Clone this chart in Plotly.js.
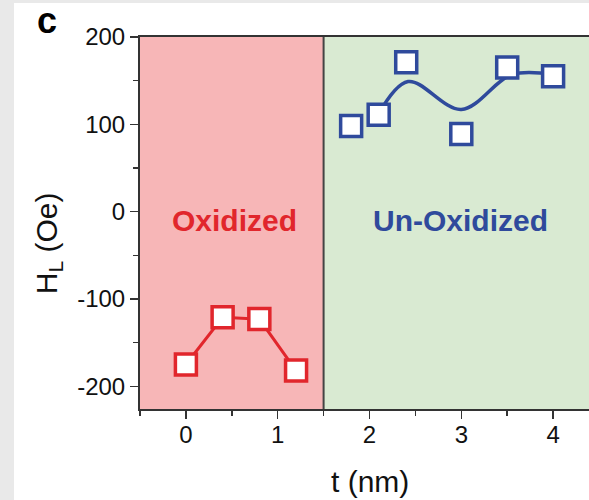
<!DOCTYPE html>
<html>
<head>
<meta charset="utf-8">
<script src="https://cdn.plot.ly/plotly-3.0.1.min.js"></script>
<style>
  html, body { margin: 0; padding: 0; background: #e9e9e9; overflow: hidden; width: 589px; height: 500px; }
  #chart { position: absolute; left: 14px; top: 3px; width: 585px; height: 497px; background: #ffffff; }
</style>
</head>
<body>
<div id="chart"></div>
<script>
// Oxidized films: thickness t (nm) vs H_L (Oe)
const oxT = [0, 0.4, 0.8, 1.2];
const oxH = [-175, -121, -123, -182];

// Un-oxidized films
const unT = [1.8, 2.1, 2.4, 3.0, 3.5, 4.0];
const unH = [98, 111, 171, 89, 165, 155];

// Smoothed guide line through the un-oxidized series
const guideT = [2.1, 2.42, 3.0, 3.55, 4.0];
const guideH = [112, 149, 117, 157, 157];

// Axis ticks
const xTicks = [0, 1, 2, 3, 4];
const xTickText = ['0', '1', '2', '3', '4'];
const yTicks = [-200, -100, 0, 100, 200];
const yTickText = ['-200', '-100', '0', '100', '200'];

// Region boundaries and labels
const regionEdges = [-0.5, 1.5, 4.5];
const regionNames = ['Oxidized', 'Un-Oxidized'];
const regionLabelT = [0.53, 2.99];
const regionLabelH = [-10, -10];

const FONT = "Arial, 'Liberation Sans', Helvetica, sans-serif";
const RED = '#e1262c';
const BLUE = '#2f4a9c';
const AXIS = '#333333';

const traces = [
  {
    x: oxT, y: oxH, type: 'scatter', mode: 'lines+markers',
    line: { color: RED, width: 3 },
    marker: { symbol: 'square', size: 21, color: '#ffffff', line: { color: RED, width: 3.5 } },
    cliponaxis: false, hoverinfo: 'skip'
  },
  {
    x: guideT, y: guideH, type: 'scatter', mode: 'lines',
    line: { color: BLUE, width: 3.5, shape: 'spline', smoothing: 1 },
    hoverinfo: 'skip'
  },
  {
    x: unT, y: unH, type: 'scatter', mode: 'markers',
    marker: { symbol: 'square', size: 21, color: '#ffffff', line: { color: BLUE, width: 3.5 } },
    cliponaxis: false, hoverinfo: 'skip'
  }
];

const layout = {
  width: 585, height: 497,
  margin: { l: 126, r: 0, t: 34, b: 91 },
  paper_bgcolor: '#ffffff',
  plot_bgcolor: '#ffffff',
  showlegend: false,
  font: { family: FONT, color: '#1a1a1a' },
  xaxis: {
    range: [regionEdges[0], regionEdges[2]],
    tickvals: xTicks, ticktext: xTickText,
    ticks: 'outside', ticklen: 8, tickwidth: 1.5, tickcolor: AXIS,
    ticklabelstandoff: -5,
    minor: { dtick: 0.5, tick0: 0, ticks: 'outside', ticklen: 5, tickwidth: 1.5, tickcolor: AXIS, showgrid: false },
    showline: true, linecolor: AXIS, linewidth: 2, mirror: true,
    showgrid: false, zeroline: false,
    tickfont: { family: FONT, size: 24, color: '#111111' }
  },
  yaxis: {
    range: [-226, 200],
    tickvals: yTicks, ticktext: yTickText,
    ticks: 'outside', ticklen: 8, tickwidth: 1.5, tickcolor: AXIS,
    minor: { dtick: 50, tick0: 0, ticks: 'outside', ticklen: 5, tickwidth: 1.5, tickcolor: AXIS, showgrid: false },
    showline: true, linecolor: AXIS, linewidth: 2,
    showgrid: false, zeroline: false,
    tickfont: { family: FONT, size: 24, color: '#111111' }
  },
  shapes: [
    { type: 'rect', xref: 'x', yref: 'paper', x0: regionEdges[0], x1: regionEdges[1], y0: 0, y1: 1,
      fillcolor: '#f7b6b7', line: { width: 0 }, layer: 'below' },
    { type: 'rect', xref: 'x', yref: 'paper', x0: regionEdges[1], x1: regionEdges[2], y0: 0, y1: 1,
      fillcolor: '#d9ead2', line: { width: 0 }, layer: 'below' },
    { type: 'line', xref: 'x', yref: 'paper', x0: regionEdges[1], x1: regionEdges[1], y0: 0, y1: 1,
      line: { color: '#444444', width: 2 }, layer: 'below' }
  ],
  annotations: [
    { text: regionNames[0], x: regionLabelT[0], y: regionLabelH[0], xref: 'x', yref: 'y',
      showarrow: false, font: { family: FONT, size: 30, color: RED, weight: 'bold' } },
    { text: regionNames[1], x: regionLabelT[1], y: regionLabelH[1], xref: 'x', yref: 'y',
      showarrow: false, font: { family: FONT, size: 30, color: BLUE, weight: 'bold' } },
    { text: 'c', xref: 'paper', yref: 'paper', x: -0.228, y: 1.047, xanchor: 'left', yanchor: 'middle',
      height: 30, valign: 'middle',
      showarrow: false, font: { family: FONT, size: 36, color: '#000000', weight: 'bold' } },
    { text: 'H<sub>L</sub> (Oe)', xref: 'paper', yref: 'paper', x: -0.200, y: 0.446, textangle: -90,
      xanchor: 'center', yanchor: 'middle', showarrow: false,
      font: { family: FONT, size: 30, color: '#111111' } },
    { text: 't (nm)', xref: 'paper', yref: 'paper', x: 0.5, y: -0.196, xanchor: 'center', yanchor: 'middle',
      showarrow: false, font: { family: FONT, size: 30, color: '#111111' } }
  ]
};

Plotly.newPlot('chart', traces, layout, { staticPlot: true, displayModeBar: false });
</script>
</body>
</html>
